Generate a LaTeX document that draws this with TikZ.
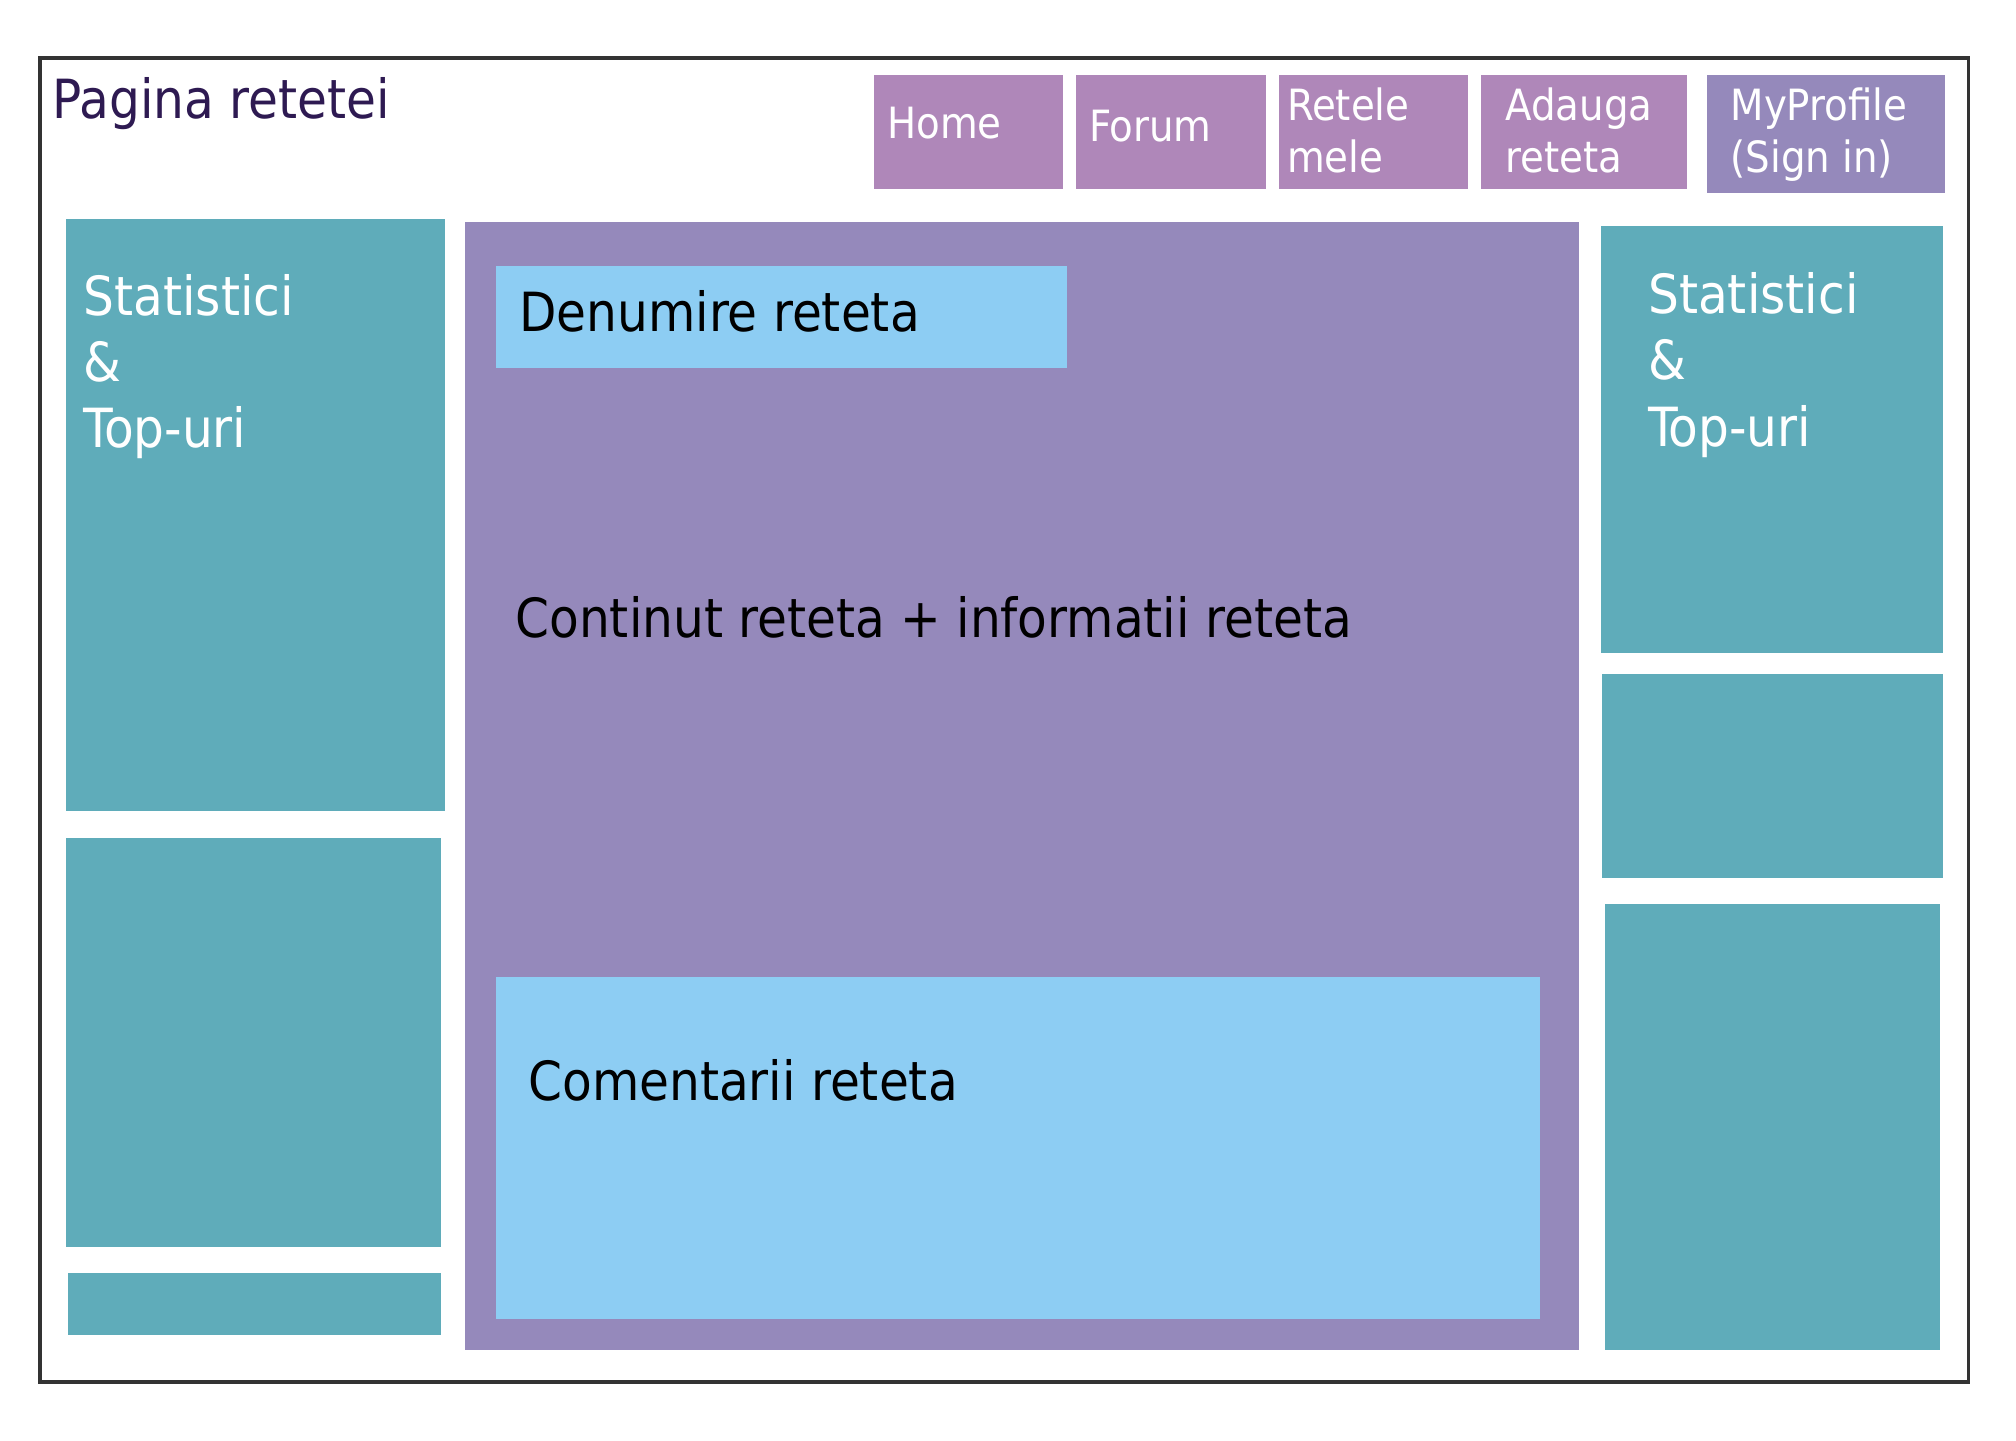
\documentclass[tikz,border=0pt]{standalone}
\usepackage{fontspec}
\setmainfont{DejaVu Sans Condensed}
\usetikzlibrary{positioning}

\definecolor{tealbox}{HTML}{5FACBA}
\definecolor{mainbox}{HTML}{9589BB}
\definecolor{navbox}{HTML}{AF87B9}
\definecolor{skybox}{HTML}{8DCDF3}
\definecolor{titlecol}{HTML}{2E1A52}
\definecolor{framecol}{HTML}{333333}

\begin{document}
\begin{tikzpicture}
    [x=1pt,y=-1pt,
     every node/.style={inner sep=0pt, outer sep=0pt},
     panel/.style={fill=tealbox, anchor=north west},
     navpanel/.style={fill=navbox, anchor=north west, minimum height=89},
     bigtext/.style={anchor=base west, align=left, font=\fontsize{42}{51.5}\selectfont},
     navtext/.style={anchor=base west, align=left, text=white, font=\fontsize{33.5}{40}\selectfont}]
  \useasboundingbox (0,0) rectangle (1568,1120);

  % page frame and title
  \node[draw=framecol, line width=3, anchor=north west, minimum width=1500, minimum height=1030] (page) at (31,45) {};
  \node[bigtext, text=titlecol] (title) at (41,92) {Pagina retetei};

  % menu
  \node[navpanel, minimum width=147] (home) at (680,58) {};
  \node[navpanel, minimum width=148] (forum) at (837,58) {};
  \node[navpanel, minimum width=147] (mine) at (995,58) {};
  \node[navpanel, minimum width=160] (add) at (1152,58) {};
  \node[navpanel, fill=mainbox, minimum width=185, minimum height=92] (profile) at (1328,58) {};
  \node[navtext] (hometxt) at (690,108) {Home};
  \node[navtext] (forumtxt) at (847,110) {Forum};
  \node[navtext] (minetxt) at (1001,134) {Retele\\mele};
  \node[navtext] (addtxt) at (1171,134) {Adauga\\reteta};
  \node[navtext] (profiletxt) at (1346,134) {MyProfile\\(Sign in)};

  % left column
  \node[panel, minimum width=295, minimum height=461] (left1) at (51,170) {};
  \node[panel, minimum width=292, minimum height=318] (left2) at (51,652) {};
  \node[panel, minimum width=290, minimum height=48] (left3) at (53,990) {};
  \node[bigtext, text=white] (left1txt) at (65,348) {Statistici\\\&\\Top-uri};

  % content
  \node[fill=mainbox, anchor=north west, minimum width=866, minimum height=877] (content) at (362,173) {};
  \node[fill=skybox, anchor=north west, minimum width=444, minimum height=79] (name) at (386,207) {};
  \node[bigtext] (nametxt) at (404,258) {Denumire reteta};
  \node[bigtext] (contenttxt) at (401,496) {Continut reteta + informatii reteta};
  \node[fill=skybox, anchor=north west, minimum width=812, minimum height=266] (comments) at (386,760) {};
  \node[bigtext] (commentstxt) at (411,856) {Comentarii reteta};

  % right column
  \node[panel, minimum width=266, minimum height=332] (right1) at (1245,176) {};
  \node[panel, minimum width=265, minimum height=159] (right2) at (1246,524) {};
  \node[panel, minimum width=261, minimum height=347] (right3) at (1248,703) {};
  \node[bigtext, text=white] (right1txt) at (1282,347) {Statistici\\\&\\Top-uri};
\end{tikzpicture}
\end{document}
